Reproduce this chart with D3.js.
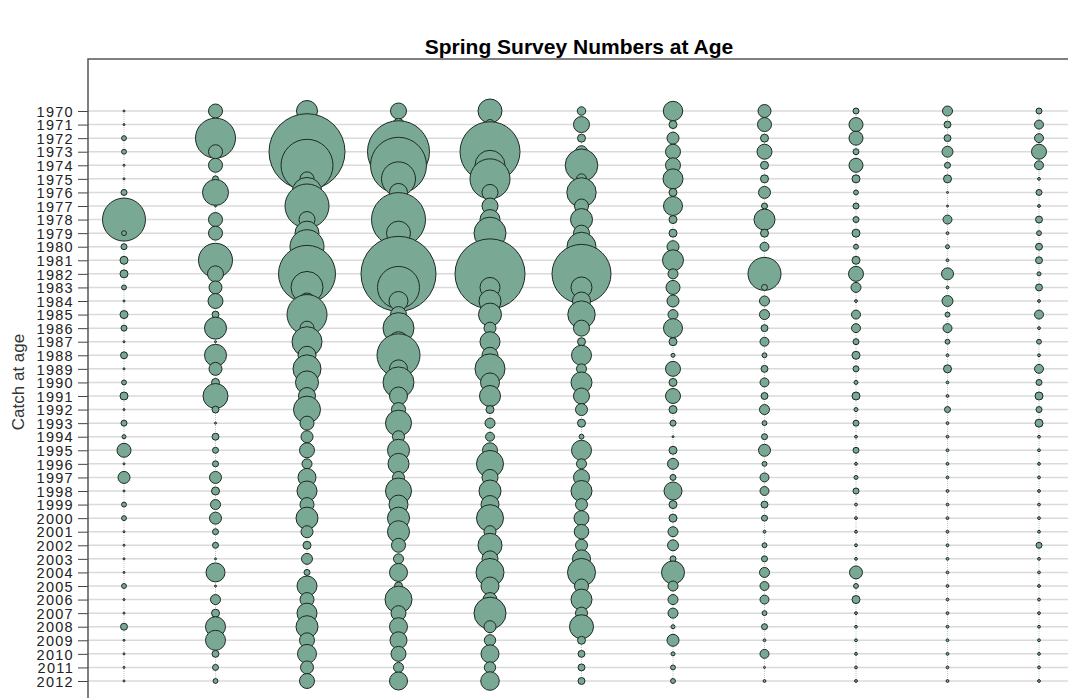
<!DOCTYPE html>
<html>
<head>
<meta charset="utf-8">
<script src="https://cdn.jsdelivr.net/npm/d3@7"></script>
<style>
  body { margin: 0; background: #fff; }
  text { font-family: "Liberation Sans", Arial, sans-serif; }
</style>
</head>
<body>
<div id="chart"></div>
<script>
// survey years (rows) and ages (columns)
const years = d3.range(1970, 2013);
const ages = [1, 2, 3, 4, 5, 6, 7, 8, 9, 10, 11];

// numbers at age, one array per age, 1970..2012 (index units)
const age1 = [1,1,6,6,1,1,9,1,462,6, 9,16,16,6,1,16,9,1,12,1, 6,16,1,9,4,49,1,36,1,6, 6,1,1,1,1,6,1,1,12,1, 1,1,1];
const age2 = [49,25,400,49,49,9,169,1,49,49, 4,289,64,42,56,12,121,1,121,42, 16,156,12,1,12,9,9,36,16,25, 36,9,9,1,90,1,25,16,100,100, 12,9,6];
const age3 = [110,64,225,1444,676,49,225,484,64,144, 289,144,812,256,64,400,49,225,81,196, 132,72,182,49,36,56,25,81,100,49, 121,36,16,30,9,100,49,100,121,56, 90,42,56];
const age4 = [64,36,256,961,784,289,81,100,729,144, 100,484,1406,441,90,64,240,100,462,81, 240,81,49,169,36,121,110,36,169,90, 121,121,49,25,81,16,182,56,81,72, 56,25,81];
const age5 = [144,25,144,900,225,400,64,64,100,256, 49,324,1225,100,121,132,36,100,64,225, 90,110,16,25,20,56,182,64,121,81, 182,36,144,64,196,81,49,256,36,32, 81,32,86];
const age6 = [18,64,16,36,266,25,216,49,121,64, 210,144,870,110,81,188,64,16,100,25, 110,64,36,16,6,100,25,64,110,36, 56,53,36,81,196,49,110,36,144,16, 12,12,12];
const age7 = [94,16,36,56,56,100,16,90,16,16, 36,110,25,49,36,25,90,16,4,56, 16,56,16,9,1,16,30,9,81,16, 16,25,30,9,132,25,25,25,4,36, 4,6,6];
const age8 = [42,49,16,56,16,16,36,9,110,16, 20,9,272,9,25,25,12,20,6,12, 20,12,25,6,9,36,6,20,20,12, 9,2,6,9,25,20,20,6,9,2, 20,1,2];
const age9 = [9,49,49,9,49,16,6,9,9,16, 6,16,56,25,2,20,20,9,16,9, 4,16,4,9,2,9,2,4,9,2, 2,2,2,2,42,6,16,2,2,2, 2,2,2];
const age10 = [25,12,12,30,9,16,1,1,20,2, 4,2,36,2,30,6,20,6,2,16, 2,2,9,2,2,2,2,2,2,2, 2,2,2,2,2,2,2,2,2,2, 2,2,2];
const age11 = [9,20,20,56,20,2,9,2,12,6, 12,12,4,12,2,20,2,6,2,20, 9,16,9,16,2,2,2,2,2,2, 2,2,9,2,2,2,2,2,2,2, 2,2,2];

const series = [age1, age2, age3, age4, age5, age6, age7, age8, age9, age10, age11];

const W = 1068, H = 698;
const frame = { left: 88, top: 59 };

const svg = d3.select('#chart')
  .append('svg')
  .attr('width', W)
  .attr('height', H);

const xScale = d3.scaleLinear().domain([1, 11]).range([124, 1039]);
const yScale = d3.scaleLinear().domain([1970, 2012]).range([111, 681]);
const maxVal = d3.max(series, s => d3.max(s));
const rScale = d3.scaleSqrt().domain([0, maxVal]).range([0, 38]);

// title
svg.append('text')
  .attr('x', 579)
  .attr('y', 54)
  .attr('text-anchor', 'middle')
  .style('font-size', '21px')
  .style('font-weight', 'bold')
  .text('Spring Survey Numbers at Age');

// y label
svg.append('text')
  .attr('transform', 'translate(24,382)rotate(-90)')
  .attr('text-anchor', 'middle')
  .style('font-size', '17px')
  .style('fill', '#333')
  .text('Catch at age');

// horizontal guide lines
svg.append('g')
  .selectAll('line')
  .data(years)
  .join('line')
  .attr('x1', frame.left)
  .attr('x2', W)
  .attr('y1', d => yScale(d))
  .attr('y2', d => yScale(d))
  .style('stroke', '#dadada')
  .style('stroke-width', 1.5);

// vertical guide lines
svg.append('g')
  .selectAll('line')
  .data(ages)
  .join('line')
  .attr('x1', d => xScale(d))
  .attr('x2', d => xScale(d))
  .attr('y1', yScale(1970))
  .attr('y2', yScale(2012))
  .style('stroke', '#c8c8c8')
  .style('stroke-width', 1)
  .style('stroke-dasharray', '1,1');

// y axis
const yAxis = d3.axisLeft(yScale)
  .tickValues(years)
  .tickFormat(d3.format('d'))
  .tickSize(10)
  .tickPadding(4);

const ag = svg.append('g')
  .attr('transform', `translate(${frame.left},0)`)
  .call(yAxis);
ag.select('.domain').remove();
ag.selectAll('line').style('stroke', '#444');
ag.selectAll('text')
  .style('font-size', '14.5px')
  .style('letter-spacing', '1.3px')
  .style('fill', '#222')
  .attr('dy', '0.36em');

// frame (right and bottom sides fall outside the picture)
svg.append('rect')
  .attr('x', frame.left)
  .attr('y', frame.top)
  .attr('width', 1000)
  .attr('height', 700)
  .style('fill', 'none')
  .style('stroke', '#555')
  .style('stroke-width', 1.5);

// bubbles
const cols = svg.append('g')
  .selectAll('g')
  .data(series)
  .join('g')
  .attr('transform', (d, i) => `translate(${xScale(ages[i])},0)`);

cols.selectAll('circle')
  .data(d => d.map((v, j) => ({ year: years[j], val: v })))
  .join('circle')
  .attr('cx', 0)
  .attr('cy', d => yScale(d.year))
  .attr('r', d => Math.max(rScale(d.val), 1))
  .style('fill', '#79a994')
  .style('stroke', '#1e2a24')
  .style('stroke-width', 1);
</script>
</body>
</html>
